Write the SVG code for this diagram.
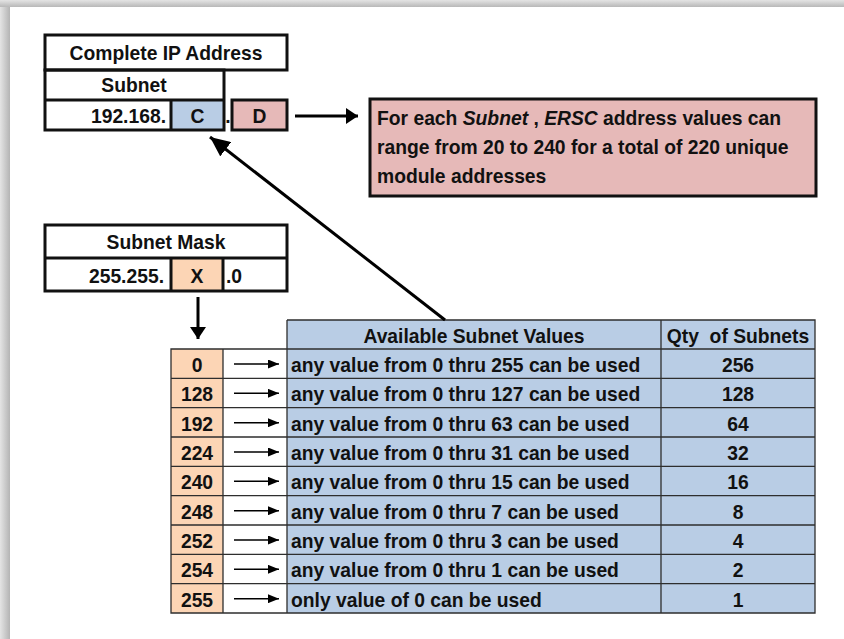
<svg xmlns="http://www.w3.org/2000/svg" width="844" height="639" viewBox="0 0 844 639">
<defs>
<linearGradient id="gl" x1="0" y1="0" x2="1" y2="0"><stop offset="0" stop-color="#e4e4e4"/><stop offset="1" stop-color="#b4b4b4"/></linearGradient>
<linearGradient id="gt" x1="0" y1="0" x2="0" y2="1"><stop offset="0" stop-color="#e4e4e4"/><stop offset="1" stop-color="#b8b8b8"/></linearGradient>
<marker id="ahBig" viewBox="0 0 20 18" refX="20" refY="9" markerWidth="20" markerHeight="18" markerUnits="userSpaceOnUse" orient="auto"><path d="M0,0 L20,9 L0,18 z" fill="#000"/></marker>
<marker id="ahMid" viewBox="0 0 12 16" refX="12" refY="8" markerWidth="12" markerHeight="16" markerUnits="userSpaceOnUse" orient="auto"><path d="M0,0 L12,8 L0,16 z" fill="#000"/></marker>
<marker id="ahSm" viewBox="0 0 11 9" refX="11" refY="4.5" markerWidth="11" markerHeight="9" markerUnits="userSpaceOnUse" orient="auto"><path d="M0,0 L11,4.5 L0,9 z" fill="#000"/></marker>
</defs>
<style>
text{font-family:"Liberation Sans",Arial,sans-serif;font-weight:bold;font-size:19.3px;fill:#111;}
.c{text-anchor:middle;}
.e{text-anchor:end;}
.it{font-style:italic;}
.thick{fill:none;stroke:#111;stroke-width:3;}
.grid{stroke:#2e2e2e;stroke-width:1.3;fill:none;}
.pink{fill:#e6b9b8;}
.blue{fill:#b9cde5;}
.peach{fill:#fcd5b5;}
.conn{stroke:#000;fill:none;}
</style>
<rect x="0" y="0" width="844" height="639" fill="#fff"/>
<rect x="0" y="0" width="10" height="639" fill="url(#gl)"/>
<rect x="0" y="0" width="844" height="7" fill="url(#gt)"/>
<rect x="10" y="7" width="834" height="632" fill="#fff"/>

<g id="ip-address">
<rect x="171" y="100" width="53" height="30" class="blue"/>
<rect x="232" y="100" width="55" height="30" class="pink"/>
<rect x="45" y="35" width="242" height="35" class="thick"/>
<rect x="45" y="70" width="179" height="60" class="thick"/>
<line x1="45" y1="100" x2="224" y2="100" class="thick"/>
<line x1="171" y1="100" x2="171" y2="130" class="thick"/>
<rect x="232" y="100" width="55" height="30" class="thick"/>
<text x="166" y="60" class="c">Complete IP Address</text>
<text x="134" y="92" class="c">Subnet</text>
<text x="166" y="123" class="e">192.168.</text>
<text x="197.5" y="123" class="c">C</text>
<text x="228" y="123" class="c">.</text>
<text x="259.5" y="123" class="c">D</text>
</g>

<g id="ersc-note">
<rect x="370" y="99" width="446" height="97" class="pink"/>
<rect x="370" y="99" width="446" height="97" class="thick"/>
<text x="377" y="125">For each <tspan class="it">Subnet</tspan> , <tspan class="it">ERSC</tspan>  address values can</text>
<text x="377" y="154">range from 20 to 240 for a total of 220 unique</text>
<text x="377" y="183">module addresses</text>
</g>

<g id="subnet-mask">
<rect x="171" y="258" width="52" height="33" class="peach"/>
<rect x="45" y="225" width="242" height="66" class="thick"/>
<line x1="45" y1="258" x2="287" y2="258" class="thick"/>
<line x1="171" y1="258" x2="171" y2="291" class="thick"/>
<line x1="223" y1="258" x2="223" y2="291" class="thick"/>
<text x="166" y="249" class="c">Subnet Mask</text>
<text x="164" y="283" class="e">255.255.</text>
<text x="197" y="283" class="c">X</text>
<text x="226" y="283">.0</text>
</g>

<g id="subnet-table">
<rect x="287" y="320" width="528" height="293" class="blue"/>
<rect x="171" y="349" width="52" height="264" class="peach"/>
<path class="grid" d="M287,320 H815 V613 H171 V349 H815 M171,378.3 H815 M171,407.7 H815 M171,437 H815 M171,466.3 H815 M171,495.7 H815 M171,525 H815 M171,554.3 H815 M171,583.7 H815 M223,349 V613 M287,320 V613 M661,320 V613"/>
<text x="474" y="343" class="c">Available Subnet Values</text>
<text x="738" y="343" class="c" xml:space="preserve">Qty  of Subnets</text>
<text x="197" y="372" class="c">0</text>
<text x="197" y="401.3" class="c">128</text>
<text x="197" y="430.7" class="c">192</text>
<text x="197" y="460" class="c">224</text>
<text x="197" y="489.3" class="c">240</text>
<text x="197" y="518.7" class="c">248</text>
<text x="197" y="548" class="c">252</text>
<text x="197" y="577.3" class="c">254</text>
<text x="197" y="606.7" class="c">255</text>
<text x="291" y="372">any value from 0 thru 255 can be used</text>
<text x="291" y="401.3">any value from 0 thru 127 can be used</text>
<text x="291" y="430.7">any value from 0 thru 63 can be used</text>
<text x="291" y="460">any value from 0 thru 31 can be used</text>
<text x="291" y="489.3">any value from 0 thru 15 can be used</text>
<text x="291" y="518.7">any value from 0 thru 7 can be used</text>
<text x="291" y="548">any value from 0 thru 3 can be used</text>
<text x="291" y="577.3">any value from 0 thru 1 can be used</text>
<text x="291" y="606.7">only value of 0 can be used</text>
<text x="738" y="372" class="c">256</text>
<text x="738" y="401.3" class="c">128</text>
<text x="738" y="430.7" class="c">64</text>
<text x="738" y="460" class="c">32</text>
<text x="738" y="489.3" class="c">16</text>
<text x="738" y="518.7" class="c">8</text>
<text x="738" y="548" class="c">4</text>
<text x="738" y="577.3" class="c">2</text>
<text x="738" y="606.7" class="c">1</text>
</g>

<g id="connectors">
<line x1="295" y1="116" x2="358" y2="116" class="conn" stroke-width="3" marker-end="url(#ahMid)"/>
<line x1="198" y1="297" x2="198" y2="339" class="conn" stroke-width="3" marker-end="url(#ahMid)"/>
<line x1="445" y1="320" x2="210" y2="137" class="conn" stroke-width="3" marker-end="url(#ahBig)"/>
<g stroke-width="1.6">
<line x1="234" y1="364" x2="279" y2="364" class="conn" marker-end="url(#ahSm)"/>
<line x1="234" y1="393.3" x2="279" y2="393.3" class="conn" marker-end="url(#ahSm)"/>
<line x1="234" y1="422.7" x2="279" y2="422.7" class="conn" marker-end="url(#ahSm)"/>
<line x1="234" y1="452" x2="279" y2="452" class="conn" marker-end="url(#ahSm)"/>
<line x1="234" y1="481.3" x2="279" y2="481.3" class="conn" marker-end="url(#ahSm)"/>
<line x1="234" y1="510.7" x2="279" y2="510.7" class="conn" marker-end="url(#ahSm)"/>
<line x1="234" y1="540" x2="279" y2="540" class="conn" marker-end="url(#ahSm)"/>
<line x1="234" y1="569.3" x2="279" y2="569.3" class="conn" marker-end="url(#ahSm)"/>
<line x1="234" y1="598.7" x2="279" y2="598.7" class="conn" marker-end="url(#ahSm)"/>
</g>
</g>
</svg>
